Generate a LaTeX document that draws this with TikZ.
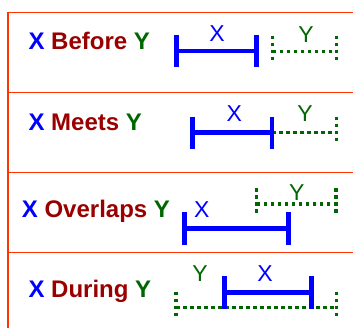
\documentclass[tikz,border=0pt]{standalone}
\usepackage{fontspec}
\setmainfont{Liberation Sans}
\definecolor{boxred}{HTML}{FF3300}
\definecolor{relred}{HTML}{990000}
\definecolor{ygreen}{HTML}{006600}

\begin{document}
\begin{tikzpicture}[x=1pt,y=-1pt,
	box/.style={draw=boxred,line width=1.5pt},
	rel/.style={anchor=base west,inner sep=0pt,font=\fontsize{24}{24}\selectfont\bfseries},
	lbl/.style={anchor=base,inner sep=0pt,font=\fontsize{23}{23}\selectfont},
	xbar/.style={draw=blue,line width=4.5pt},
	ybar/.style={draw=ygreen,line width=3.5pt,dash pattern=on 3.5pt off 3.5pt}]
	\path[use as bounding box,clip] (0,0) rectangle (353,327);

	\draw[box] (8,12.7) rectangle (370,340);
	\foreach \y in {92.7,172.7,252.7}
		\draw[box] (8,\y) -- (370,\y);

	\node[rel](r1) at (28.3,49.3) {\textcolor{blue}{X} \textcolor{relred}{Before} \textcolor{ygreen}{Y}};
	\node[rel](r2) at (28.3,130) {\textcolor{blue}{X} \textcolor{relred}{Meets} \textcolor{ygreen}{Y}};
	\node[rel](r3) at (21.7,217.7) {\textcolor{blue}{X} \textcolor{relred}{Overlaps} \textcolor{ygreen}{Y}};
	\node[rel](r4) at (28.3,297.7) {\textcolor{blue}{X} \textcolor{relred}{During} \textcolor{ygreen}{Y}};

	% interval end points
	\coordinate (x1a) at (176.5,51);   \coordinate (x1b) at (256.3,51);
	\coordinate (y1a) at (272.7,51.7); \coordinate (y1b) at (336.7,51.7);
	\coordinate (x2a) at (192.3,132.7); \coordinate (x2b) at (272,132.7);
	\coordinate (y2b) at (336.7,132.7);
	\coordinate (x3a) at (184.3,228.3); \coordinate (x3b) at (288.3,228.3);
	\coordinate (y3a) at (256.7,204);   \coordinate (y3b) at (336,204);
	\coordinate (x4a) at (224.3,292.3); \coordinate (x4b) at (311.7,292.3);
	\coordinate (y4a) at (176,307.7);   \coordinate (y4b) at (336.7,307.7);

	% Y intervals
	\draw[ybar] (y1a) -- (y1b);
	\draw[ybar] (x2b) -- (y2b);
	\draw[ybar] (y3a) -- (y3b);
	\draw[ybar] (y4a) -- (y4b);
	\foreach \p in {y1a,y1b,y2b,y3a,y3b,y4a,y4b}
		\draw[ybar] (\p) ++(0,-16) -- ++(0,28);

	% X intervals
	\draw[xbar] (x1a) -- (x1b);
	\draw[xbar] (x2a) -- (x2b);
	\draw[xbar] (x3a) -- (x3b);
	\draw[xbar] (x4a) -- (x4b);
	\foreach \p in {x1a,x1b,x2a,x2b,x3a,x3b,x4a,x4b}
		\draw[xbar] (\p) ++(0,-16.2) -- ++(0,32.4);

	\node[lbl,text=blue](x1) at (217,41.7) {X};
	\node[lbl,text=ygreen](y1) at (306,42.7) {Y};
	\node[lbl,text=blue](x2) at (234.3,121.7) {X};
	\node[lbl,text=ygreen](y2) at (305,121.7) {Y};
	\node[lbl,text=blue](x3) at (201.7,217.3) {X};
	\node[lbl,text=ygreen](y3) at (296.7,200.7) {Y};
	\node[lbl,text=blue](x4) at (265,281.7) {X};
	\node[lbl,text=ygreen](y4) at (200,281.7) {Y};
\end{tikzpicture}
\end{document}
